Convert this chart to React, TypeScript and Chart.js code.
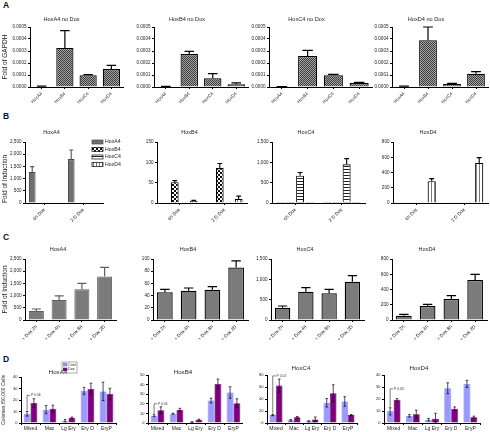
import React, { useEffect, useRef } from "react";
import { Chart, registerables } from "chart.js";

Chart.register(...registerables);
const FONT = "'Liberation Sans', Arial, Helvetica, sans-serif";
Chart.defaults.font.family = FONT;
Chart.defaults.color = "#222";

// ---------------- DATA ----------------
const genes = ["HoxA4", "HoxB4", "HoxC4", "HoxD4"];
const timesB = ["6h Dox", "2 D Dox"];
const timesC = ["+ Dox 2h", "+ Dox 4h", "+ Dox 8h", "+ Dox 2D"];
const colonyTypes = ["Mixed", "Mac", "Lg Ery", "Ery D", "EryP"];

// A: fold of GAPDH, no Dox
const aHoxA4 = [0.000005, 0.000325, 0.000097, 0.00015];
const aHoxA4Err = [0.000002, 0.000145, 0.000006, 0.00003];
const aHoxB4 = [0.000005, 0.000275, 0.000072, 0.000022];
const aHoxB4Err = [0.000001, 0.000022, 0.000039, 0.000012];
const aHoxC4 = [0.000002, 0.000258, 0.000097, 0.000033];
const aHoxC4Err = [0.000001, 0.000047, 0.000008, 0.000005];
const aHoxD4 = [0.000005, 0.00039, 0.000025, 0.000111];
const aHoxD4Err = [0.000002, 0.00011, 0.000005, 0.000017];

// B: fold of induction per gene (series = measured gene, categories = time)
const bA4 = { HoxA4: [1270, 1800], HoxB4: [0, 0], HoxC4: [0, 0], HoxD4: [0, 0] };
const bA4Err = { HoxA4: [220, 370], HoxB4: [0, 0], HoxC4: [0, 0], HoxD4: [0, 0] };
const bB4 = { HoxA4: [1, 1], HoxB4: [51, 86], HoxC4: [1.5, 2], HoxD4: [5, 10] };
const bB4Err = { HoxA4: [0, 0], HoxB4: [4, 11], HoxC4: [0, 0], HoxD4: [1.5, 7] };
const bC4 = { HoxA4: [3, 3], HoxB4: [3, 3], HoxC4: [670, 950], HoxD4: [3, 3] };
const bC4Err = { HoxA4: [0, 0], HoxB4: [0, 0], HoxC4: [80, 140], HoxD4: [0, 0] };
const bD4 = { HoxA4: [2, 2], HoxB4: [3, 3], HoxC4: [3, 4], HoxD4: [285, 525] };
const bD4Err = { HoxA4: [0, 0], HoxB4: [0, 0], HoxC4: [0, 0], HoxD4: [35, 70] };

// C: time course of induction
const cHoxA4 = [370, 820, 1260, 1780];
const cHoxA4Err = [80, 165, 240, 380];
const cHoxB4 = [45.5, 48, 49.7, 86];
const cHoxB4Err = [4.6, 4.5, 4.9, 11];
const cHoxC4 = [303, 697, 656, 943];
const cHoxC4Err = [41, 98, 98, 147];
const cHoxD4 = [57, 184, 275, 525];
const cHoxD4Err = [17, 21, 44, 74];

// D: colonies / 50,000 cells
const dA4Cont = [8, 11.6, 2, 28, 27.5];
const dA4ContErr = [2, 3.5, 1, 3, 8];
const dA4Dox = [17.4, 12.5, 4.6, 29.6, 25.2];
const dA4DoxErr = [3.7, 3, 0.5, 5, 5];
const dB4Cont = [7.6, 9.7, 1, 23.4, 31.7];
const dB4ContErr = [1, 0.5, 0.3, 2.5, 6];
const dB4Dox = [13.4, 13.8, 3.4, 40.7, 20.7];
const dB4DoxErr = [3.5, 1.5, 0.5, 5, 4.5];
const dC4Cont = [13.2, 4.4, 2.8, 33.7, 35.9];
const dC4ContErr = [1, 1.5, 1, 7, 8];
const dC4Dox = [62.3, 9.4, 6, 49.7, 13.2];
const dC4DoxErr = [11, 1.5, 4, 14, 1];
const dD4Cont = [9.7, 6, 2.8, 29, 32.6];
const dD4ContErr = [3, 1, 1, 4.5, 3];
const dD4Dox = [19.3, 7.2, 3.6, 11.9, 4.7];
const dD4DoxErr = [1, 3.5, 4.5, 1.5, 1];

// ---------------- FILLS ----------------
let fillCache: Record<string, any> | null = null;
function fills(): Record<string, any> {
  if (fillCache) return fillCache;
  const mk = (w: number, h: number, draw: (g: CanvasRenderingContext2D) => void) => {
    const c = document.createElement("canvas");
    c.width = w;
    c.height = h;
    const g = c.getContext("2d")!;
    draw(g);
    return g.createPattern(c, "repeat");
  };
  fillCache = {
    meshA: mk(2, 2, (g) => {
      g.fillStyle = "#a4a4a4";
      g.fillRect(0, 0, 2, 2);
      g.fillStyle = "#3c3c3c";
      g.fillRect(0, 0, 1, 1);
      g.fillRect(1, 1, 1, 1);
    }),
    checkB: mk(4, 4, (g) => {
      g.fillStyle = "#fff";
      g.fillRect(0, 0, 4, 4);
      g.fillStyle = "#111";
      g.fillRect(0, 0, 2, 2);
      g.fillRect(2, 2, 2, 2);
    }),
    hStripe: mk(3, 3, (g) => {
      g.fillStyle = "#fff";
      g.fillRect(0, 0, 3, 3);
      g.fillStyle = "#222";
      g.fillRect(0, 0, 3, 1);
    }),
    vStripe: mk(3, 3, (g) => {
      g.fillStyle = "#fff";
      g.fillRect(0, 0, 3, 3);
      g.fillStyle = "#777";
      g.fillRect(0, 0, 1, 3);
    }),
    grayB: "#6f6f6f",
    grayC: "#7b7b7b",
    cont: "#9999ff",
    dox: "#800080",
  };
  return fillCache;
}

// ---------------- PLUGINS ----------------
const errorBarPlugin = {
  id: "errorBars",
  afterDatasetsDraw(chart: any) {
    const ctx = chart.ctx;
    const y = chart.scales.y;
    chart.data.datasets.forEach((ds: any, di: number) => {
      const meta = chart.getDatasetMeta(di);
      (ds.err || []).forEach((e: number, i: number) => {
        if (!e) return;
        const bar = meta.data[i];
        if (!bar) return;
        const v = ds.data[i];
        const top = y.getPixelForValue(v + e);
        const both = ds.errMode === "both";
        const bottom = both ? y.getPixelForValue(Math.max(v - e, 0)) : bar.y;
        const half = ds.capPx ? ds.capPx / 2 : (bar.width * (ds.capRatio || 0.5)) / 2;
        ctx.save();
        ctx.strokeStyle = ds.errColor;
        ctx.lineWidth = ds.errWidth;
        ctx.beginPath();
        ctx.moveTo(bar.x, bottom);
        ctx.lineTo(bar.x, top);
        ctx.moveTo(bar.x - half, top);
        ctx.lineTo(bar.x + half, top);
        if (both) {
          ctx.moveTo(bar.x - half, bottom);
          ctx.lineTo(bar.x + half, bottom);
        }
        ctx.stroke();
        ctx.restore();
      });
    });
  },
};

const boxLegendPlugin = {
  id: "boxLegend",
  afterDraw(chart: any, _a: any, o: any) {
    if (!o || o.x == null) return;
    const ctx = chart.ctx;
    ctx.save();
    ctx.translate(-o.ox, -o.oy);
    if (o.box) {
      ctx.strokeStyle = "#888";
      ctx.lineWidth = 0.7;
      ctx.strokeRect(o.box[0], o.box[1], o.box[2], o.box[3]);
    }
    ctx.font = `${o.size}px ${FONT}`;
    ctx.textBaseline = "middle";
    chart.data.datasets.forEach((ds: any, i: number) => {
      const cy = o.y + i * o.step;
      ctx.fillStyle = ds.backgroundColor;
      ctx.fillRect(o.x, cy - o.swH / 2, o.swW, o.swH);
      ctx.strokeStyle = ds.borderColor;
      ctx.lineWidth = 0.7;
      ctx.strokeRect(o.x, cy - o.swH / 2, o.swW, o.swH);
      ctx.fillStyle = "#222";
      ctx.fillText(ds.label, o.x + o.swW + o.gap, cy);
    });
    ctx.restore();
  },
};

const bracketPlugin = {
  id: "pBracket",
  afterDatasetsDraw(chart: any, _a: any, o: any) {
    if (!o || o.text == null) return;
    const ctx = chart.ctx;
    const bar = chart.getDatasetMeta(0).data[o.index];
    const y = chart.scales.y;
    const x = bar.x;
    const y0 = y.getPixelForValue(o.from);
    const y1 = y.getPixelForValue(o.to);
    ctx.save();
    ctx.strokeStyle = "#444";
    ctx.lineWidth = 0.7;
    ctx.beginPath();
    ctx.moveTo(x, y0);
    ctx.lineTo(x, y1);
    ctx.lineTo(x + o.hLen, y1);
    ctx.stroke();
    ctx.fillStyle = "#333";
    ctx.font = `${o.size}px ${FONT}`;
    ctx.textBaseline = "middle";
    ctx.fillText(o.text, x + o.hLen + 0.8, y1);
    ctx.restore();
  },
};

// ---------------- SPECS ----------------
type DSpec = {
  label: string;
  data: number[];
  err: number[];
  fill: string;
  border: string;
  bw: number;
  errColor: string;
  errWidth: number;
  errMode: "up" | "both";
  capRatio?: number;
  capPx?: number;
};
type Spec = {
  key: string;
  canvas: number[];
  plot: number[];
  title: string;
  titleY: number;
  titleSize: number;
  labels: string[];
  datasets: DSpec[];
  y: { min: number; max: number; step: number; fmt: (v: number) => string; size: number };
  xFont: number;
  rotate: boolean;
  xTickLen: number;
  xPad: number;
  xGridOffset: boolean;
  barPct: number;
  catPct: number;
  yTitle?: string;
  yTitleSize?: number;
  yTitleAlign?: string;
  legend?: any;
  bracket?: any;
};

const comma = (v: number) => v.toLocaleString("en-US");

function rowA(key: string, title: string, canvas: number[], plot: number[], data: number[], err: number[], yTitle?: string): Spec {
  return {
    key, canvas, plot, title, titleY: 19, titleSize: 5.6, labels: genes,
    datasets: [{ label: title, data, err, fill: "meshA", border: "#000", bw: 1.2, errColor: "#000", errWidth: 1.2, errMode: "up", capRatio: 0.55 }],
    y: { min: 0, max: 0.0005, step: 0.0001, fmt: (v) => v.toFixed(4), size: 4.6 },
    xFont: 4.6, rotate: true, xTickLen: 2, xPad: 2, xGridOffset: false, barPct: 0.74, catPct: 1,
    yTitle, yTitleSize: 6.5,
  };
}

const bStyles: Record<string, { fill: string; border: string; err: string }> = {
  HoxA4: { fill: "grayB", border: "#4a4a4a", err: "#555" },
  HoxB4: { fill: "checkB", border: "#000", err: "#000" },
  HoxC4: { fill: "hStripe", border: "#000", err: "#000" },
  HoxD4: { fill: "vStripe", border: "#000", err: "#000" },
};

function rowB(key: string, title: string, canvas: number[], plot: number[], vals: any, errs: any, max: number, step: number, extra: Partial<Spec> = {}): Spec {
  return {
    key, canvas, plot, title, titleY: 132, titleSize: 5.5, labels: timesB,
    datasets: genes.map((g) => ({
      label: g, data: vals[g], err: errs[g], fill: bStyles[g].fill, border: bStyles[g].border, bw: 1.1,
      errColor: bStyles[g].err, errWidth: 1.1, errMode: "up" as const, capRatio: 0.6,
    })),
    y: { min: 0, max, step, fmt: comma, size: 4.6 },
    xFont: 4.8, rotate: true, xTickLen: 2, xPad: 2, xGridOffset: false, barPct: 0.82, catPct: 0.84,
    ...extra,
  };
}

function rowC(key: string, title: string, canvas: number[], plot: number[], data: number[], err: number[], max: number, step: number, first = false): Spec {
  return {
    key, canvas, plot, title, titleY: 249, titleSize: 5.5, labels: timesC,
    datasets: [{
      label: title, data, err, fill: "grayC", border: first ? "#5e5e5e" : "#000", bw: first ? 1 : 1.3,
      errColor: first ? "#5e5e5e" : "#000", errWidth: 1.2, errMode: "up", capRatio: 0.6,
    }],
    y: { min: 0, max, step, fmt: comma, size: 4.6 },
    xFont: 4.8, rotate: true, xTickLen: 2, xPad: 2, xGridOffset: false, barPct: 0.66, catPct: 1,
    yTitle: first ? "Fold of Induction" : undefined, yTitleSize: 6.5,
  };
}

function rowD(key: string, title: string, canvas: number[], plot: number[], titleY: number, cont: number[], contErr: number[], dox: number[], doxErr: number[], max: number, step: number, bracket: any, extra: Partial<Spec> = {}): Spec {
  return {
    key, canvas, plot, title, titleY, titleSize: 6.2, labels: colonyTypes,
    datasets: [
      { label: "Cont", data: cont, err: contErr, fill: "cont", border: "#6f6fd6", bw: 0.6, errColor: "#000", errWidth: 0.7, errMode: "both", capPx: 2.6 },
      { label: "Dox", data: dox, err: doxErr, fill: "dox", border: "#4d004d", bw: 0.6, errColor: "#000", errWidth: 0.7, errMode: "both", capPx: 2.6 },
    ],
    y: { min: 0, max, step, fmt: (v) => String(v), size: 4 },
    xFont: 5, rotate: false, xTickLen: 2, xPad: 1, xGridOffset: true, barPct: 1, catPct: 0.72,
    bracket,
    ...extra,
  };
}

const specs: Spec[] = [
  rowA("a1", "HoxA4 no Dox", [0, 10, 154, 110], [30, 27, 123, 87], aHoxA4, aHoxA4Err, "Fold of GAPDH"),
  rowA("a2", "HoxB4 no Dox", [126, 10, 254, 110], [154, 27, 248, 87], aHoxB4, aHoxB4Err),
  rowA("a3", "HoxC4 no Dox", [241, 10, 401, 110], [269, 27, 372, 87], aHoxC4, aHoxC4Err),
  rowA("a4", "HoxD4 no Dox", [364, 10, 520, 110], [392, 27, 488, 87], aHoxD4, aHoxD4Err),

  rowB("b1", "HoxA4", [0, 124, 142, 222], [25, 142, 103, 203], bA4, bA4Err, 2500, 500, {
    yTitle: "Fold of Induction", yTitleSize: 6.5, yTitleAlign: "start",
    legend: { x: 92, y: 142, step: 7.5, swW: 11, swH: 4, size: 5.2, gap: 2 },
  }),
  rowB("b2", "HoxB4", [132, 124, 268, 222], [157, 142, 247, 203], bB4, bB4Err, 150, 50),
  rowB("b3", "HoxC4", [247, 124, 381, 222], [272, 142, 365, 203], bC4, bC4Err, 1500, 500),
  rowB("b4", "HoxD4", [368, 124, 504, 222], [393, 142, 488, 203], bD4, bD4Err, 800, 200),

  rowC("c1", "HoxA4", [0, 241, 140, 341], [25, 259, 116, 320], cHoxA4, cHoxA4Err, 2500, 500, true),
  rowC("c2", "HoxB4", [128, 241, 258, 341], [153, 259, 248, 320], cHoxB4, cHoxB4Err, 100, 20),
  rowC("c3", "HoxC4", [246, 241, 382, 341], [271, 259, 364, 320], cHoxC4, cHoxC4Err, 1500, 500),
  rowC("c4", "HoxD4", [367, 241, 503, 341], [392, 259, 487, 320], cHoxD4, cHoxD4Err, 800, 200),

  rowD("d1", "HoxA4", [0, 358, 130, 432], [21, 377, 116, 423], 372, dA4Cont, dA4ContErr, dA4Dox, dA4DoxErr, 40, 5,
    { index: 0, from: 10.8, to: 24, hLen: 3, text: "P 0.06", size: 3.4 }, {
      yTitle: "Colonies /50,000 Cells", yTitleSize: 5,
      legend: { x: 63.5, y: 364.6, step: 4.8, swW: 3.4, swH: 2.6, size: 3.6, gap: 1.2, box: [62, 362, 15, 11] },
    }),
  rowD("d2", "HoxB4", [123, 358, 243, 432], [148, 375, 243, 423], 372, dB4Cont, dB4ContErr, dB4Dox, dB4DoxErr, 50, 5,
    { index: 0, from: 9.2, to: 20, hLen: 3, text: "P 0.05", size: 3.4 }),
  rowD("d3", "HoxC4", [245, 358, 375, 432], [267, 375, 357, 423], 368, dC4Cont, dC4ContErr, dC4Dox, dC4DoxErr, 80, 10,
    { index: 0, from: 15.5, to: 78.5, hLen: 3, text: "P 0.01", size: 3.4 }),
  rowD("d4", "HoxD4", [358, 358, 500, 432], [384, 375, 480, 423], 368, dD4Cont, dD4ContErr, dD4Dox, dD4DoxErr, 40, 5,
    { index: 0, from: 13.5, to: 28.5, hLen: 3, text: "P 0.03", size: 3.4 }),
];

function buildConfig(s: Spec): any {
  const F = fills();
  const [cl, ct, cr, cb] = s.canvas;
  const [pl, pt, pr, pb] = s.plot;
  const lh = s.titleSize;
  let padTop = s.titleY - ct - lh / 2;
  let padBottom = pt - ct - lh - padTop;
  if (padBottom < 0) {
    padTop += padBottom;
    padBottom = 0;
  }
  return {
    type: "bar",
    data: {
      labels: s.labels,
      datasets: s.datasets.map((d) => ({
        label: d.label,
        data: d.data,
        err: d.err,
        backgroundColor: F[d.fill],
        borderColor: d.border,
        borderWidth: d.bw,
        errColor: d.errColor,
        errWidth: d.errWidth,
        errMode: d.errMode,
        capRatio: d.capRatio,
        capPx: d.capPx,
        barPercentage: s.barPct,
        categoryPercentage: s.catPct,
      })),
    },
    options: {
      responsive: false,
      animation: false,
      events: [],
      layout: { padding: { left: 0, top: 0, right: cr - pr, bottom: 0 } },
      plugins: {
        legend: { display: false },
        tooltip: { enabled: false },
        title: {
          display: true,
          text: s.title,
          color: "#222",
          font: { size: s.titleSize, lineHeight: 1, weight: "normal" },
          padding: { top: padTop, bottom: padBottom },
        },
        boxLegend: s.legend ? { ...s.legend, ox: cl, oy: ct } : false,
        pBracket: s.bracket ? s.bracket : false,
      },
      scales: {
        x: {
          offset: true,
          grid: { display: true, drawOnChartArea: false, drawTicks: true, tickLength: s.xTickLen, offset: s.xGridOffset, color: "#000", lineWidth: 1 },
          border: { display: true, color: "#000", width: 1 },
          ticks: {
            autoSkip: false,
            minRotation: s.rotate ? 45 : 0,
            maxRotation: s.rotate ? 45 : 0,
            font: { size: s.xFont },
            color: "#222",
            padding: s.xPad,
          },
          afterFit: (sc: any) => {
            sc.height = cb - pb;
          },
        },
        y: {
          min: s.y.min,
          max: s.y.max,
          grid: { display: true, drawOnChartArea: false, drawTicks: true, tickLength: 2, color: "#000", lineWidth: 1 },
          border: { display: true, color: "#000", width: 1 },
          ticks: {
            stepSize: s.y.step,
            font: { size: s.y.size },
            color: "#222",
            padding: 1.5,
            callback: (v: any) => s.y.fmt(Number(v)),
          },
          title: s.yTitle
            ? { display: true, text: s.yTitle, color: "#222", font: { size: s.yTitleSize }, padding: { top: 1, bottom: 0 }, align: s.yTitleAlign || "center" }
            : { display: false },
          afterFit: (sc: any) => {
            sc.width = pl - cl;
          },
        },
      },
    },
    plugins: [errorBarPlugin, boxLegendPlugin, bracketPlugin],
  };
}

function Panel({ spec }: { spec: Spec }) {
  const ref = useRef<HTMLCanvasElement>(null);
  useEffect(() => {
    const chart = new Chart(ref.current!, buildConfig(spec));
    return () => chart.destroy();
  }, []);
  const [cl, ct, cr, cb] = spec.canvas;
  return (
    <canvas
      ref={ref}
      width={cr - cl}
      height={cb - ct}
      style={{ position: "absolute", left: cl, top: ct, width: cr - cl, height: cb - ct }}
    />
  );
}

const panelLetters = [
  { t: "A", x: 3, y: 1 },
  { t: "B", x: 3, y: 112 },
  { t: "C", x: 3, y: 233 },
  { t: "D", x: 3, y: 355 },
];

export default function App() {
  return (
    <div
      style={{
        position: "absolute",
        left: 0,
        top: 0,
        width: 490,
        height: 432,
        overflow: "hidden",
        background: "#fff",
        fontFamily: FONT,
      }}
    >
      {panelLetters.map((p) => (
        <div
          key={p.t}
          style={{ position: "absolute", left: p.x, top: p.y, fontSize: 8.5, lineHeight: 1, fontWeight: "bold", color: "#111" }}
        >
          {p.t}
        </div>
      ))}
      {specs.map((s) => (
        <Panel key={s.key} spec={s} />
      ))}
    </div>
  );
}
